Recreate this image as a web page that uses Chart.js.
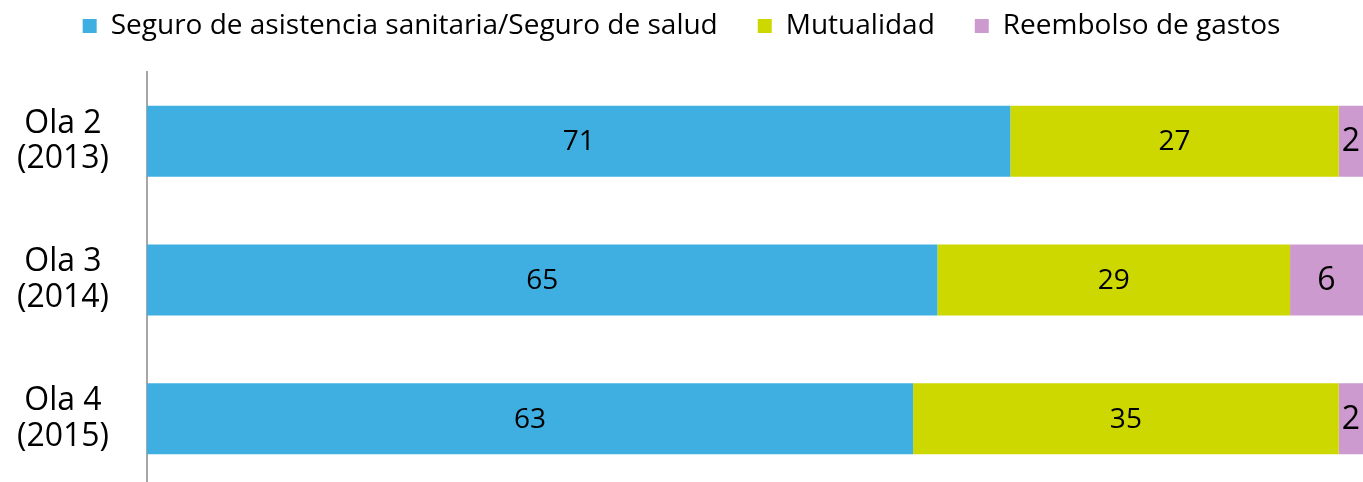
<!DOCTYPE html>
<html>
<head>
<meta charset="utf-8">
<script src="https://cdn.jsdelivr.net/npm/chart.js@4/dist/chart.umd.min.js"></script>
<style>
  html, body { margin: 0; padding: 0; background: #fff; overflow: hidden; }
  canvas { display: block; }
</style>
</head>
<body>
<canvas id="grafik" width="1363" height="482"></canvas>
<script>
// datos del gráfico
const categorias = [['Ola 2', '(2013)'], ['Ola 3', '(2014)'], ['Ola 4', '(2015)']];
const seriesNombres = ['Seguro de asistencia sanitaria/Seguro de salud', 'Mutualidad', 'Reembolso de gastos'];
const seguroSalud = [71, 65, 63];
const mutualidad = [27, 29, 35];
const reembolso = [2, 6, 2];

const colores = ['#3FAFE2', '#CCD800', '#CD9ACF'];
const tamLetra = [28, 28, 32];
const fuente = "'Open Sans', 'Noto Sans', sans-serif";

// etiquetas dentro de cada segmento
const etiquetasPlugin = {
    id: 'etiquetas',
    afterDatasetsDraw(chart) {
        const ctx = chart.ctx;
        ctx.save();
        ctx.fillStyle = '#000';
        ctx.textAlign = 'center';
        ctx.textBaseline = 'middle';
        chart.data.datasets.forEach((ds, i) => {
            const meta = chart.getDatasetMeta(i);
            ctx.font = tamLetra[i] + 'px ' + fuente;
            meta.data.forEach((bar, j) => {
                const x = (bar.x + bar.base) / 2;
                ctx.fillText(String(ds.data[j]), x, bar.y + 1);
            });
        });
        ctx.restore();
    }
};

// el área del gráfico sigue unos píxeles por debajo del lienzo
const extenderAbajo = {
    id: 'extenderAbajo',
    afterLayout(chart) {
        const extra = 6;
        const y = chart.scales.y;
        y.bottom += extra;
        y.height += extra;
        y.configure();
        chart.chartArea.bottom += extra;
        chart.chartArea.height += extra;
    }
};

const ctx = document.getElementById('grafik').getContext('2d');
let config = {
    type: 'bar',
    data: {
        labels: categorias,
        datasets: [
            { label: seriesNombres[0], data: seguroSalud, backgroundColor: colores[0] },
            { label: seriesNombres[1], data: mutualidad, backgroundColor: colores[1] },
            { label: seriesNombres[2], data: reembolso, backgroundColor: colores[2] },
        ],
    },
    options: {
        indexAxis: 'y',
        responsive: false,
        animation: false,
        datasets: {
            bar: { barPercentage: 0.512, categoryPercentage: 1 }
        },
        layout: { padding: { top: -28, right: 0, bottom: 0, left: 0 } },
        plugins: {
            tooltip: { enabled: false },
            legend: {
                position: 'top',
                labels: {
                    boxWidth: 14,
                    boxHeight: 14,
                    padding: 40,
                    color: '#000',
                    font: { family: fuente, size: 28 },
                },
            },
        },
        scales: {
            x: {
                stacked: true,
                display: false,
                min: 0,
                max: 100,
            },
            y: {
                stacked: true,
                afterFit(scale) {
                    // ancho fijo del eje y
                    scale.width = 147;
                    scale.paddingTop = 0;
                    scale.paddingBottom = 0;
                },
                grid: { display: false, drawTicks: false },
                border: { display: true, color: '#A6A6A6', width: 2 },
                ticks: {
                    crossAlign: 'center',
                    padding: 38,
                    color: '#000',
                    font: { family: fuente, size: 32, lineHeight: 1.12 },
                },
            },
        },
    },
    plugins: [etiquetasPlugin, extenderAbajo],
};

let chart = new Chart(ctx, config);

// espacio entre la leyenda y el área del gráfico
const fitLeyenda = chart.legend.fit;
chart.legend.fit = function () {
    fitLeyenda.call(this);
    this.height += 22;
};
chart.update();
</script>
</body>
</html>
